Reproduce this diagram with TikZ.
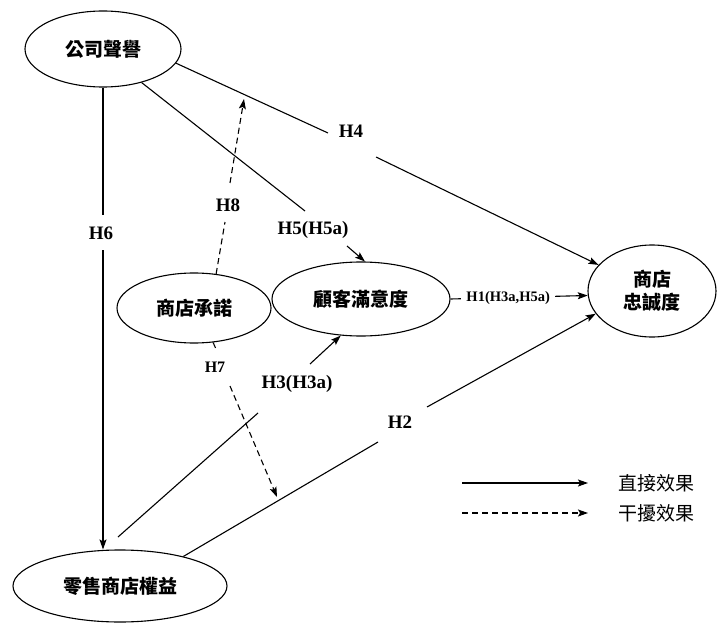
\documentclass[tikz,border=0pt]{standalone}
\usepackage{fontspec}
\setmainfont{Liberation Serif}
\newfontfamily\cjk{Noto Sans CJK TC}
\usetikzlibrary{arrows.meta,positioning,shapes.geometric}

\begin{document}
\begin{tikzpicture}[x=1pt,y=-1pt,
  construct/.style={draw,ellipse,inner sep=0pt,line width=1.1pt,font=\cjk\bfseries\fontsize{19}{23}\selectfont,align=center},
  arr/.style={-{Stealth[length=10pt,width=7pt,inset=2pt]},line width=1.1pt},
  plain/.style={line width=1.1pt},
  dashline/.style={line width=1.1pt,dash pattern=on 6pt off 4pt},
  hyp/.style={font=\bfseries\fontsize{19}{22}\selectfont,inner sep=1pt},
  hypsmall/.style={font=\bfseries\fontsize{14.5}{17}\selectfont,inner sep=5pt,fill=white},
  legend/.style={font=\cjk\fontsize{19}{22}\selectfont,anchor=west,inner sep=0pt}
]
\useasboundingbox (0,0) rectangle (723,623);

% Constructs
\node[construct,minimum width=156pt,minimum height=76pt] (rep) at (103,49) {公司聲譽};
\node[construct,minimum width=154pt,minimum height=70pt] (commit) at (194,308) {商店承諾};
\node[construct,minimum width=178pt,minimum height=74pt] (sat) at (361,299) {顧客滿意度};
\node[construct,minimum width=128pt,minimum height=92pt] (loyal) at (652,291) {商店\\忠誠度};
\node[construct,minimum width=214pt,minimum height=72pt] (equity) at (120,586) {零售商店權益};

% Gaps in the lines around the labels
\coordinate (h4a) at (328,133); \coordinate (h4b) at (376,157);
\coordinate (h5a) at (305,211); \coordinate (h5b) at (347,246);
\coordinate (h6a) at (103,215); \coordinate (h6b) at (103,250);
\coordinate (h8a) at (225,222); \coordinate (h8b) at (230,183); \coordinate (h8end) at (244,99);
\coordinate (h7a) at (216,349); \coordinate (h7b) at (230,386); \coordinate (h7end) at (277,497);
\coordinate (h3s) at (118,537); \coordinate (h3a) at (258,413); \coordinate (h3b) at (310,364);
\coordinate (h2a) at (378,442); \coordinate (h2b) at (427,407);

% Labels
\node[hyp] (lh4) at (351,131) {H4};
\node[hyp] (lh5) at (313,230) {H5(H5a)};
\node[hyp] (lh6) at (101,233) {H6};
\node[hyp] (lh8) at (228,205) {H8};
\node[hyp,font=\bfseries\fontsize{16}{18}\selectfont] (lh7) at (215,367) {H7};
\node[hyp] (lh3) at (297,384) {H3(H3a)};
\node[hyp] (lh2) at (400,422) {H2};

% Direct effects
\draw[plain] (rep.-11) -- (h4a);
\draw[arr] (h4b) -- (loyal.154);
\draw[plain] (rep.-41) -- (h5a);
\draw[arr] (h5b) -- (sat.84);
\draw[plain] (rep.south) -- (h6a);
\draw[arr] (h6b) -- (h6b |- equity.north);
\draw[plain] (h3s) -- (h3a);
\draw[arr] (h3b) -- (sat.241);
\draw[plain] (equity.25) -- (h2a);
\draw[arr] (h2b) -- (loyal.202);
\draw[arr] (sat.east) -- node[hypsmall,pos=0.42] {H1(H3a,H5a)} (loyal.184);

% Moderating effects
\draw[dashline] (commit.57) -- (h8a);
\draw[arr,dashline] (h8b) -- (h8end);
\draw[dashline] (commit.-61) -- (h7a);
\draw[arr,dashline] (h7b) -- (h7end);

% Legend
\node[legend] (lgdirect) at (618,483) {直接效果};
\node[legend] (lgmod) at (618,513) {干擾效果};
\coordinate (lgs1) at (462,483);
\coordinate (lgs2) at (462,513);
\draw[arr] (lgs1) -- ([xshift=-30pt]lgdirect.west);
\draw[arr,dashline] (lgs2) -- ([xshift=-30pt]lgmod.west);

\end{tikzpicture}
\end{document}
